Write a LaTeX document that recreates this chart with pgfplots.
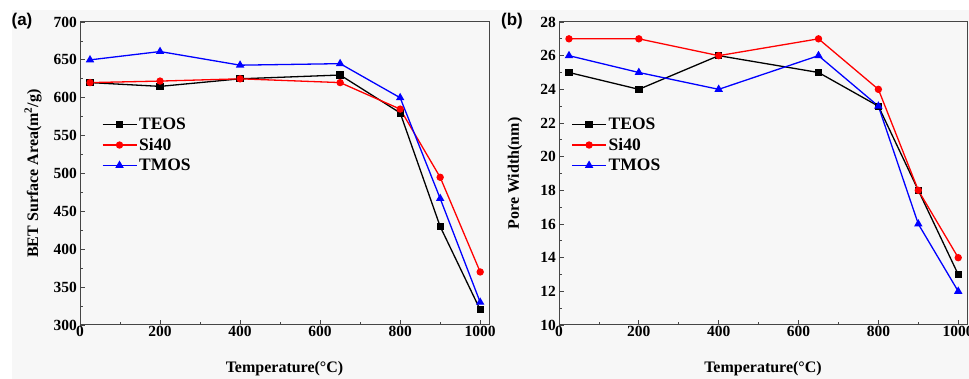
\documentclass[border=0pt]{standalone}
\usepackage{pgfplots}
\pgfplotsset{compat=1.18}
\usepackage{fontspec}
\setmainfont{Liberation Serif}
\setsansfont{Liberation Sans}
\definecolor{bggray}{RGB}{247,247,247}
\definecolor{axgray}{RGB}{70,70,70}
\pgfplotsset{
  myax/.style={
    scale only axis, height=303pt,
    xmin=0, xmax=1022,
    xtick={0,200,...,1000}, minor x tick num=1,
    tick align=inside, tick pos=left,
    major tick length=5pt, minor tick length=3pt,
    tick style={line width=0.8pt, color=axgray},
    axis line style={line width=1pt, color=axgray},
    ticklabel style={font=\fontsize{15.5}{18}\selectfont\bfseries},
    xticklabel style={inner sep=1pt},
    yticklabel style={inner sep=3pt},
    /pgf/number format/assume math mode=true,
    /pgf/number format/set thousands separator={},
    label style={font=\fontsize{16}{19}\selectfont\bfseries},
    every axis plot/.append style={line width=1.3pt, mark size=3pt},
    legend style={draw=none, fill=none, inner sep=0pt, row sep=3pt,
      font=\fontsize{17.5}{19}\selectfont\bfseries},
    legend cell align=left,
    legend image code/.code={\draw[mark repeat=2,mark phase=2] plot coordinates {(0pt,0pt) (17pt,0pt) (34pt,0pt)};},
    xlabel style={at={(axis description cs:0.5,-0.145)}, anchor=center},
    xlabel={Temperature(°C)},
  }
}
\begin{document}
\begin{tikzpicture}
\useasboundingbox (0,0) rectangle (969pt,379pt);
\fill[bggray] (12pt,0) rectangle (969pt,369pt);
\begin{axis}[myax, at={(80pt,54pt)}, anchor=south west, width=409pt,
  ymin=300, ymax=700, ytick={300,350,...,700}, minor y tick num=1,
  ylabel={BET Surface Area(m\textsuperscript{2}/g)},
  ylabel style={at={(axis description cs:-0.115,0.5)}, anchor=center},
  legend style={at={(0.053,0.69)}, anchor=north west}]
\addplot[black, mark=square*] coordinates {(25,620) (200,615) (400,625) (650,630) (800,580) (900,430) (1000,320)};
\addplot[red, mark=*] coordinates {(25,620) (200,622) (400,625) (650,620) (800,585) (900,495) (1000,370)};
\addplot[blue, mark=triangle*, mark size=3.6pt] coordinates {(25,650) (200,661) (400,643) (650,645) (800,600) (900,467) (1000,330)};
\legend{TEOS, Si40, TMOS}
\end{axis}
\begin{axis}[myax, at={(559pt,54pt)}, anchor=south west, width=408pt,
  ymin=10, ymax=28, ytick={10,12,...,28}, minor y tick num=1,
  ylabel={Pore Width(nm)},
  ylabel style={at={(axis description cs:-0.108,0.5)}, anchor=center},
  legend style={at={(0.03,0.69)}, anchor=north west}]
\addplot[black, mark=square*] coordinates {(25,25) (200,24) (400,26) (650,25) (800,23) (900,18) (1000,13)};
\addplot[red, mark=*] coordinates {(25,27) (200,27) (400,26) (650,27) (800,24) (900,18) (1000,14)};
\addplot[blue, mark=triangle*, mark size=3.6pt] coordinates {(25,26) (200,25) (400,24) (650,26) (800,23) (900,16) (1000,12)};
\legend{TEOS, Si40, TMOS}
\end{axis}
\node[font=\sffamily\bfseries\fontsize{17}{20}\selectfont] at (22pt,358pt) {(a)};
\node[font=\sffamily\bfseries\fontsize{17}{20}\selectfont] at (512pt,358pt) {(b)};
\end{tikzpicture}
\end{document}
